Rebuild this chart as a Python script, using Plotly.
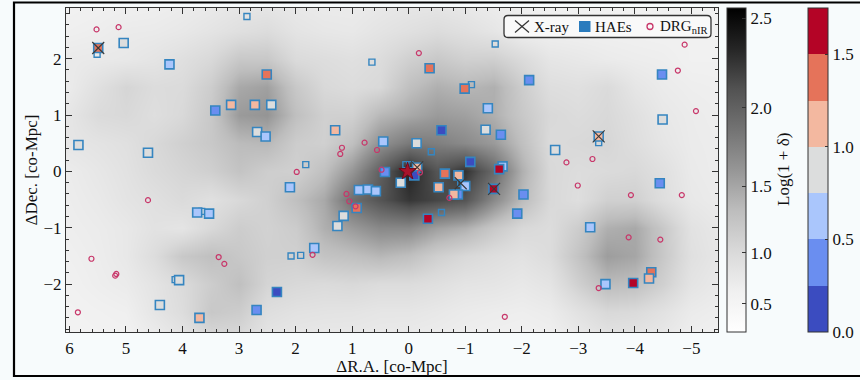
import numpy as np
import plotly.graph_objects as go

# ---------------- data ----------------
# smoothed density map Log(1+delta) on a 0.5 co-Mpc grid
grid_x = [6.0, 5.5, 5.0, 4.5, 4.0, 3.5, 3.0, 2.5, 2.0, 1.5, 1.0, 0.5, 0.0,
          -0.5, -1.0, -1.5, -2.0, -2.5, -3.0, -3.5, -4.0, -4.5, -5.0, -5.5]
grid_y = [-3.0, -2.5, -2.0, -1.5, -1.0, -0.5, 0.0, 0.5, 1.0, 1.5, 2.0, 2.5, 3.0]
dens = [
    [0.56, 0.58, 0.60, 0.70, 0.82, 1.00, 1.00, 0.82, 0.78, 0.76, 0.76, 0.74, 0.72, 0.70, 0.66, 0.64, 0.62, 0.64, 0.74, 0.84, 0.82, 0.76, 0.66, 0.62],
    [0.58, 0.62, 0.65, 0.82, 0.96, 1.21, 1.16, 0.94, 0.88, 0.86, 0.85, 0.82, 0.82, 0.78, 0.73, 0.70, 0.68, 0.72, 0.88, 1.02, 0.99, 0.88, 0.73, 0.68],
    [0.62, 0.68, 0.73, 0.85, 0.99, 1.16, 1.30, 1.07, 1.02, 0.99, 1.02, 0.97, 0.97, 0.92, 0.85, 0.83, 0.78, 0.85, 1.12, 1.34, 1.30, 1.12, 0.85, 0.75],
    [0.65, 0.70, 0.78, 0.96, 1.21, 1.30, 1.21, 1.12, 1.12, 1.26, 1.30, 1.37, 1.30, 1.13, 1.02, 0.94, 0.88, 0.97, 1.26, 1.56, 1.50, 1.21, 0.91, 0.80],
    [0.68, 0.72, 0.78, 0.88, 0.84, 1.02, 1.16, 1.10, 1.17, 1.43, 1.58, 1.71, 1.71, 1.54, 1.43, 1.21, 1.02, 0.97, 1.16, 1.43, 1.48, 1.21, 0.88, 0.78],
    [0.70, 0.76, 0.85, 0.91, 0.99, 0.91, 1.02, 1.12, 1.30, 1.48, 1.90, 2.09, 2.25, 2.17, 2.09, 1.70, 1.34, 1.02, 0.94, 1.12, 1.12, 0.94, 0.78, 0.72],
    [0.72, 0.80, 0.88, 0.99, 1.06, 1.13, 1.26, 1.15, 1.12, 1.30, 1.61, 2.01, 2.35, 2.09, 2.27, 1.94, 1.43, 1.02, 0.96, 0.99, 1.02, 0.91, 0.75, 0.70],
    [0.82, 0.86, 0.91, 1.02, 1.12, 1.21, 1.34, 1.37, 1.16, 1.12, 1.30, 1.65, 1.82, 1.78, 1.70, 1.58, 1.30, 0.99, 1.02, 1.05, 0.94, 0.82, 0.73, 0.70],
    [0.82, 0.99, 1.02, 0.94, 1.02, 1.21, 1.58, 1.62, 1.30, 1.12, 1.12, 1.37, 1.48, 1.58, 1.54, 1.43, 1.21, 1.02, 0.97, 1.02, 0.91, 0.78, 0.72, 0.68],
    [0.73, 0.91, 1.06, 0.97, 0.99, 1.16, 1.48, 1.54, 1.21, 1.02, 0.97, 1.02, 1.30, 1.43, 1.37, 1.43, 1.16, 0.94, 0.91, 0.99, 0.82, 0.73, 0.68, 0.66],
    [0.74, 0.76, 0.78, 0.84, 0.92, 1.02, 1.21, 1.21, 0.99, 0.95, 0.91, 0.97, 1.12, 1.21, 1.12, 1.13, 0.99, 0.82, 0.78, 0.73, 0.70, 0.68, 0.62, 0.62],
    [0.65, 0.68, 0.73, 0.74, 0.78, 0.85, 0.92, 0.97, 0.85, 0.80, 0.78, 0.85, 0.91, 0.97, 0.91, 0.82, 0.68, 0.66, 0.65, 0.64, 0.63, 0.62, 0.62, 0.62],
    [0.60, 0.62, 0.64, 0.66, 0.70, 0.74, 0.80, 0.80, 0.76, 0.72, 0.72, 0.76, 0.80, 0.80, 0.76, 0.70, 0.66, 0.62, 0.60, 0.60, 0.60, 0.60, 0.60, 0.60],
]
dens_ticks = [0.5, 1.0, 1.5, 2.0, 2.5]
dens_ticktext = ["0.5", "1.0", "1.5", "2.0", "2.5"]
dens_max = 2.555

# HAEs with local density value
hae_x = [5.49, 5.04, 4.23, 2.51, 3.42, 3.14, 2.72, 2.43, 2.68, 2.53, 5.84, 4.61, 2.10,
         -0.37, -2.13, -0.99, -1.40, 1.30, -0.58, -1.36, -1.63, 0.45, -0.14, -2.59,
         -1.09, -1.66, -1.60, 0.42, -0.15, -0.10, 0.14, -0.64, -0.88, -1.00, -0.53,
         -0.87, -0.80, -1.50, -2.03, -1.92, -0.34, 0.88, 0.72, 0.58, 0.92, 1.15, 1.26,
         1.67, 3.74, 3.53, 4.06, 4.40, 3.70, 2.69, 2.33, -4.44, -4.48, -4.49, -3.36,
         -3.21, -4.29, -4.25, -3.97, -3.48]
hae_y = [2.19, 2.28, 1.90, 1.72, 1.08, 1.18, 1.18, 1.18, 0.70, 0.62, 0.47, 0.33, -0.28,
         1.83, 1.62, 1.47, 1.12, 0.73, 0.73, 0.74, 0.65, 0.53, 0.50, 0.38,
         0.17, 0.09, 0.04, -0.01, 0.07, -0.07, -0.20, -0.04, -0.07, -0.26, -0.28,
         -0.41, -0.41, -0.31, -0.41, -0.75, -0.84, -0.33, -0.32, -0.35, -0.65, -0.79, -0.97,
         -1.36, -0.73, -0.75, -1.93, -2.37, -2.60, -2.46, -2.14, -0.21, 1.72, 0.92, 0.62,
         -0.99, -1.79, -1.90, -1.98, -2.00]
hae_val = [1.38, 0.88, 0.62, 1.40, 0.38, 1.12, 1.10, 0.85, 0.88, 0.60, 0.86, 0.90, 0.62,
           1.36, 0.40, 1.35, 0.63, 1.13, 0.12, 0.87, 0.42, 0.60, 0.85, 0.86,
           0.15, 0.58, 1.62, 0.40, 1.15, 0.18, 0.88, 1.33, 1.10, 0.62, 1.14,
           0.42, 1.12, 1.65, 0.38, 0.40, 1.60, 0.60, 0.62, 0.58, 1.30, 0.86, 0.88,
           0.60, 0.60, 0.62, 0.88, 0.87, 1.12, 0.40, 0.10, 0.38, 0.40, 0.88, 1.18,
           0.62, 1.35, 1.12, 1.63, 0.60]

# HAEs without density value (small open squares)
hae2_x = [5.51, 2.86, 0.65, -1.53, -1.11, -0.40, 1.82, 0.05, -0.02, -0.92, -0.58, 2.08, 1.91, 3.66, 4.13, -3.36]
hae2_y = [2.08, 2.75, 1.94, 2.26, 1.54, 0.35, 0.12, 0.12, 0.12, -0.21, -0.73, -1.50, -1.49, -0.71, -1.92, 0.51]

# DRG_nIR
drg_x = [5.52, 5.13, -0.18, 1.18, 1.21, 0.78, 0.56, 1.98, 0.48, -0.20, -0.72, 1.10, 1.05, 0.94,
         1.70, 4.61, 5.61, 5.17, 5.19, 3.36, 3.26, 5.85, -1.70, -2.79, -3.25, -2.99, -3.93,
         -4.83, -3.89, -4.45, -3.36, -4.88, -4.76, -5.08]
drg_y = [2.52, 2.56, 2.10, 0.42, 0.31, 0.51, 0.38, -0.01, 0.03, -0.02, -0.47, -0.40, -0.53, -0.62,
         -1.48, -0.51, -1.55, -1.82, -1.85, -1.52, -1.64, -2.50, -2.58, 0.16, 0.22, -0.25, -0.42,
         -0.42, -1.17, -1.21, -2.07, 2.25, 1.79, 1.07]

# X-ray sources
xr_x = [5.49, -0.15, -0.92, -1.51, -3.36]
xr_y = [2.19, 0.07, -0.21, -0.31, 0.62]

# central radio galaxy
star_x = [0.02]
star_y = [0.0]

hae_ticks = [0.0, 0.5, 1.0, 1.5]
hae_ticktext = ["0.0", "0.5", "1.0", "1.5"]
hae_min, hae_max = 0.0, 1.75

legend_names = ["X-ray", "HAEs", "DRG<sub>nIR</sub>"]

# ---------------- styling ----------------
W, H = 860, 380
ML, MR, MT, MB = 66, 142, 8, 48
PW, PH = W - ML - MR, H - MT - MB


def px2x(px):
    return (px - ML) / PW


def py2y(py):
    return (H - MB - py) / PH


FONT = "Liberation Serif, DejaVu Serif, serif"
TXT = "#111"
greys = [[0.0, "#ffffff"], [0.125, "#f0f0f0"], [0.25, "#d9d9d9"], [0.375, "#bdbdbd"],
         [0.5, "#969696"], [0.625, "#737373"], [0.75, "#525252"], [0.875, "#252525"],
         [1.0, "#000000"]]
cw = ["#3b4cc0", "#6a8ef0", "#aac6fc", "#dcdddd", "#f3b8a0", "#e5735a", "#b40426"]
disc = []
n = len(cw)
for i, c in enumerate(cw):
    disc.append([i / n, c])
    disc.append([(i + 1) / n, c])

EDGE = "#3585c0"
DRGC = "#c8376a"
gamma = 1.5
z = np.array(dens) ** gamma

fig = go.Figure()

fig.add_trace(go.Heatmap(
    x=grid_x, y=grid_y, z=z, zmin=0, zmax=dens_max ** gamma,
    colorscale=greys, zsmooth="best", hoverinfo="skip",
    colorbar=dict(
        x=px2x(727), xanchor="left", xpad=0, y=0.5, yanchor="middle", ypad=0,
        len=1, lenmode="fraction", thickness=19,
        outlinecolor="#333", outlinewidth=1,
        ticks="inside", ticklen=4, tickcolor="#333",
        tickvals=[t ** gamma for t in dens_ticks], ticktext=dens_ticktext,
        tickfont=dict(family=FONT, size=17, color=TXT),
    ),
))

fig.add_trace(go.Scatter(
    x=hae2_x, y=hae2_y, mode="markers", showlegend=False, hoverinfo="skip",
    marker=dict(symbol="square-open", size=6, line=dict(width=1.4, color=EDGE), color=EDGE),
))

fig.add_trace(go.Scatter(
    x=hae_x, y=hae_y, mode="markers", showlegend=False,
    marker=dict(symbol="square", size=9, color=hae_val, colorscale=disc,
                cmin=hae_min, cmax=hae_max,
                line=dict(width=1.6, color=EDGE),
                colorbar=dict(
                    x=px2x(808), xanchor="left", xpad=0, y=0.5, yanchor="middle", ypad=0,
                    len=1, lenmode="fraction", thickness=20,
                    outlinecolor="#333", outlinewidth=1,
                    ticks="inside", ticklen=3, tickcolor="#333",
                    tickvals=hae_ticks, ticktext=hae_ticktext,
                    tickfont=dict(family=FONT, size=17, color=TXT),
                )),
))

fig.add_trace(go.Scatter(
    x=xr_x, y=xr_y, mode="markers", showlegend=False, hoverinfo="skip",
    marker=dict(symbol="x-thin", size=12, line=dict(width=1.1, color="#3a3a3a")),
))

fig.add_trace(go.Scatter(
    x=drg_x, y=drg_y, mode="markers", showlegend=False, hoverinfo="skip",
    marker=dict(symbol="circle-open", size=5, color=DRGC, line=dict(width=1.2, color=DRGC)),
))

fig.add_trace(go.Scatter(
    x=star_x, y=star_y, mode="markers", showlegend=False, hoverinfo="skip",
    marker=dict(symbol="star", size=13, color="#a8132b", line=dict(width=1, color="#6e0a1a")),
))

axis_common = dict(
    showgrid=False, zeroline=False, showline=True, linecolor="#333", linewidth=1.2,
    mirror="allticks", ticks="inside", ticklen=6, tickwidth=1, tickcolor="#333",
    minor=dict(ticks="inside", dtick=0.2, ticklen=3, tickwidth=1, tickcolor="#333"),
    dtick=1, tickfont=dict(family=FONT, size=17, color=TXT),
)

# ---- hand-drawn legend box (paper coordinates from pixel positions) ----
bx0, bx1, by0, by1, rr = 504, 711, 15.5, 37.5, 4


def P(px, py):
    return f"{px2x(px):.5f},{py2y(py):.5f}"


box_path = (f"M{P(bx0 + rr, by0)} L{P(bx1 - rr, by0)} Q{P(bx1, by0)} {P(bx1, by0 + rr)} "
            f"L{P(bx1, by1 - rr)} Q{P(bx1, by1)} {P(bx1 - rr, by1)} "
            f"L{P(bx0 + rr, by1)} Q{P(bx0, by1)} {P(bx0, by1 - rr)} "
            f"L{P(bx0, by0 + rr)} Q{P(bx0, by0)} {P(bx0 + rr, by0)} Z")
ly = 26.5
shapes = [
    dict(type="rect", xref="paper", yref="paper",
         x0=px2x(14), x1=px2x(880), y0=py2y(376), y1=py2y(2.5),
         line=dict(color="#000", width=2.2), layer="above"),
    dict(type="path", xref="paper", yref="paper", path=box_path,
         fillcolor="rgba(250,250,250,0.92)", line=dict(color="#333", width=1.3), layer="above"),
    dict(type="line", xref="paper", yref="paper", x0=px2x(515), x1=px2x(529),
         y0=py2y(ly - 6), y1=py2y(ly + 6), line=dict(color="#333", width=1.2), layer="above"),
    dict(type="line", xref="paper", yref="paper", x0=px2x(515), x1=px2x(529),
         y0=py2y(ly + 6), y1=py2y(ly - 6), line=dict(color="#333", width=1.2), layer="above"),
    dict(type="rect", xref="paper", yref="paper", x0=px2x(579), x1=px2x(590.5),
         y0=py2y(ly + 5.5), y1=py2y(ly - 5.5), fillcolor="#2a7bbd", line=dict(width=0), layer="above"),
    dict(type="circle", xref="paper", yref="paper", x0=px2x(647), x1=px2x(653),
         y0=py2y(ly + 3), y1=py2y(ly - 3), line=dict(color=DRGC, width=1.3), layer="above"),
]
legend_text_px = [532, 593, 658]
annotations = [
    dict(xref="paper", yref="paper", x=px2x(tx), y=py2y(ly), xanchor="left", yanchor="middle",
         text=name, showarrow=False, font=dict(family=FONT, size=15, color=TXT))
    for tx, name in zip(legend_text_px, legend_names)
]
annotations.append(dict(xref="paper", yref="paper", x=px2x(783), y=0.5, xanchor="center",
                        yanchor="middle", text="Log(1 + δ)", textangle=-90, showarrow=False,
                        font=dict(family=FONT, size=17, color=TXT)))

fig.update_layout(
    width=W, height=H,
    margin=dict(l=ML, r=MR, t=MT, b=MB, autoexpand=False),
    paper_bgcolor="#f7fbfc", plot_bgcolor="#f7fbfc",
    showlegend=False,
    xaxis=dict(range=[6.06, -5.47], title=dict(text="ΔR.A. [co-Mpc]", standoff=1,
               font=dict(family=FONT, size=17, color=TXT)), **axis_common),
    yaxis=dict(range=[-2.85, 2.90], title=dict(text="ΔDec. [co-Mpc]", standoff=1,
               font=dict(family=FONT, size=17, color=TXT)), **axis_common),
    shapes=shapes,
    annotations=annotations,
)

fig.write_html("out.html", config={"displayModeBar": False},
               post_script="document.body.style.margin='0px';document.body.style.overflow='hidden';")
